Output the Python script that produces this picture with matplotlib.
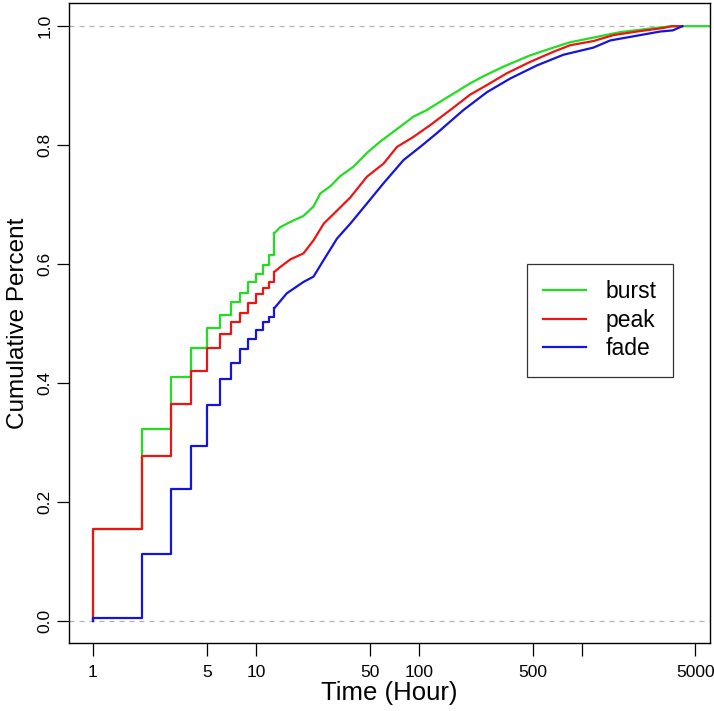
import matplotlib
matplotlib.use('Agg')
import matplotlib.pyplot as plt
from matplotlib.ticker import FixedLocator, FixedFormatter

plt.rcParams['font.family'] = ['Liberation Sans', 'DejaVu Sans']

# ECDF points: time (hours) and cumulative share
# whole hours 1..13 are clear steps; after that the curve is read point by point
burst_hours = [1, 2, 3, 4, 5, 6, 7, 8, 9, 10, 11, 12, 13, 14.1, 16.3, 19.6, 22.6,
               24.9, 28.7, 33.0, 39.8, 48.1, 58.0, 73.5, 92.9, 112, 141, 207, 250,
               331, 483, 671, 850, 1240, 1722, 2630, 3575, 6500]
burst_cum = [0.155, 0.323, 0.410, 0.459, 0.492, 0.514, 0.537, 0.552, 0.570, 0.583,
             0.598, 0.615, 0.652, 0.662, 0.671, 0.681, 0.697, 0.719, 0.731, 0.748,
             0.764, 0.787, 0.806, 0.827, 0.848, 0.859, 0.876, 0.904, 0.916, 0.932,
             0.951, 0.964, 0.973, 0.982, 0.990, 0.996, 1.0, 1.0]

peak_hours = [1, 2, 3, 4, 5, 6, 7, 8, 9, 10, 11, 12, 13, 14.1, 16.3, 19.6, 22.6,
              26.1, 31.5, 38.0, 48.1, 60.8, 73.5, 92.9, 118, 156, 207, 262, 348,
              483, 671, 850, 1181, 1567, 2182, 3176, 3575, 4150]
peak_cum = [0.155, 0.278, 0.365, 0.420, 0.459, 0.482, 0.503, 0.518, 0.534, 0.549,
            0.560, 0.570, 0.587, 0.595, 0.608, 0.618, 0.640, 0.668, 0.690, 0.712,
            0.747, 0.769, 0.797, 0.814, 0.834, 0.859, 0.885, 0.901, 0.921, 0.940,
            0.957, 0.968, 0.975, 0.985, 0.991, 0.997, 1.0, 1.0]

fade_hours = [1, 2, 3, 4, 5, 6, 7, 8, 9, 10, 11, 12, 13, 15.5, 19.6, 22.6, 26.1,
              31.5, 38.0, 48.1, 60.8, 80.7, 102, 129, 188, 262, 364, 531, 773,
              1181, 1496, 2182, 3033, 3630, 4150]
fade_cum = [0.005, 0.113, 0.222, 0.295, 0.363, 0.407, 0.434, 0.457, 0.474, 0.489,
            0.503, 0.511, 0.526, 0.551, 0.570, 0.579, 0.607, 0.643, 0.668, 0.702,
            0.736, 0.775, 0.797, 0.820, 0.859, 0.889, 0.912, 0.934, 0.952, 0.964,
            0.976, 0.984, 0.991, 0.993, 1.0]

series = [
    ('burst', burst_hours, burst_cum, '#22dd22'),
    ('peak', peak_hours, peak_cum, '#ee1414'),
    ('fade', fade_hours, fade_cum, '#1414dd'),
]
ultima_hora_inteira = 13  # até aqui os degraus são nítidos

x_ticks = [1, 5, 10, 50, 100, 500, 1000, 5000]
x_labels = ['1', '5', '10', '50', '100', '500', '', '5000']
y_ticks = [0.0, 0.2, 0.4, 0.6, 0.8, 1.0]

fig = plt.figure(figsize=(7.14, 7.11), dpi=100)
ax = fig.add_axes([69 / 714, (711 - 643) / 711, 641 / 714, 640 / 711])

ax.axhline(0, color='#b3b3b3', linestyle=(0, (4, 4)), linewidth=0.9, zorder=1)
ax.axhline(1, color='#b3b3b3', linestyle=(0, (4, 4)), linewidth=0.9, zorder=1)

for nome, horas, cum, cor in series:
    k = horas.index(ultima_hora_inteira)
    # parte em degraus (horas inteiras)
    xs = [horas[0]] + horas[:k + 1]
    ys = [0.0] + cum[:k + 1]
    ax.plot(xs, ys, drawstyle='steps-post', color=cor, linewidth=1.6, label=nome, zorder=2)
    # parte fina da curva
    ax.plot(horas[k:], cum[k:], color=cor, linewidth=1.6, zorder=2)

ax.set_xscale('log')
ax.set_xlim(10 ** -0.147, 10 ** 3.788)
ax.set_ylim(-0.037, 1.039)

ax.xaxis.set_major_locator(FixedLocator(x_ticks))
ax.xaxis.set_major_formatter(FixedFormatter(x_labels))
ax.xaxis.set_minor_locator(FixedLocator([]))
ax.set_yticks(y_ticks)
ax.set_yticklabels([f'{v:.1f}' for v in y_ticks], rotation=90, va='center')

ax.tick_params(axis='both', direction='out', length=9, width=0.9, labelsize=12.5, color='black')
ax.tick_params(axis='x', pad=7)
ax.tick_params(axis='y', pad=3)
for s in ax.spines.values():
    s.set_linewidth(1.0)
    s.set_color('black')

ax.set_xlabel('Time (Hour)', fontsize=18.5)
ax.set_ylabel('Cumulative Percent', fontsize=17.5)
ax.xaxis.set_label_coords(0.5, -0.06)
ax.yaxis.set_label_coords(-0.062, 0.5)

leg = ax.legend(loc='upper left', bbox_to_anchor=((527 - 69) / 641, (643 - 264) / 640),
                fontsize=16.5, frameon=True, fancybox=False, edgecolor='black',
                handlelength=1.87, handletextpad=0.87, borderpad=0.7, labelspacing=0.25,
                borderaxespad=0)
leg.get_frame().set_linewidth(0.9)

fig.savefig('out.png', dpi=100)
